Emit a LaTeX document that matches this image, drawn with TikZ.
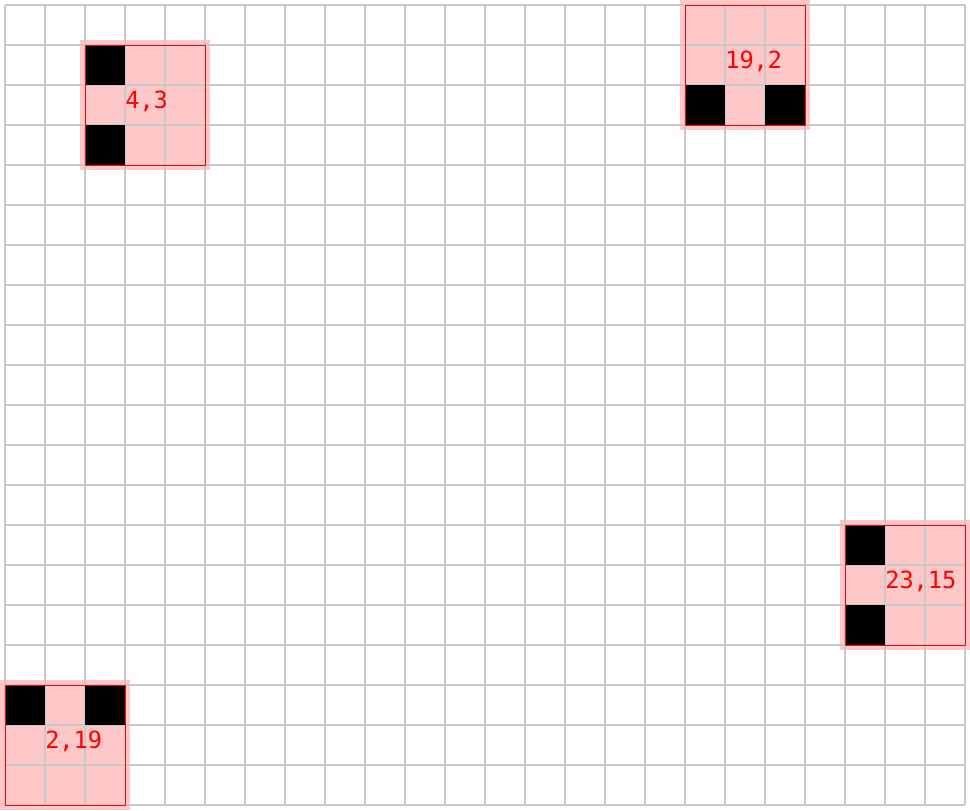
\documentclass[tikz,border=0pt]{standalone}
\usepackage{fontspec}
\newfontfamily\cellfont{DejaVu Sans Mono}
\definecolor{patchpink}{HTML}{FFC8C8}
\definecolor{gridgray}{HTML}{C8C8C8}
\tikzset{
  patchlabel/.style={text=red, anchor=base west, inner sep=0pt,
    font=\cellfont\fontsize{16.8}{19}\selectfont}
}
\begin{document}
\begin{tikzpicture}[x=1cm, y=-1cm]
    \useasboundingbox (-0.125,-0.125) rectangle (24.125,20.125);
    % pink patches round each 3x3 block
    \foreach \c/\r in {2/1,17/0,21/13,0/17}
        \fill[patchpink] (\c-0.125,\r-0.125) rectangle (\c+3.125,\r+3.125);
    \draw[gridgray, line width=1.4pt] (0,0) grid (24,20);
    % filled cells
    \foreach \c/\r in {2/1,2/3,17/2,19/2,21/13,21/15,0/17,2/17}
        \fill[black] (\c,\r) rectangle +(1,1);
    \foreach \c/\r in {2/1,17/0,21/13,0/17}
        \draw[red, line width=0.6pt] (\c,\r) rectangle +(3,3);
    \node[patchlabel] (lbl43) at (3,2.575) {4,3};
    \node[patchlabel] (lbl192) at (18,1.575) {19,2};
    \node[patchlabel] (lbl2315) at (22,14.575) {23,15};
    \node[patchlabel] (lbl219) at (1,18.575) {2,19};
\end{tikzpicture}
\end{document}
